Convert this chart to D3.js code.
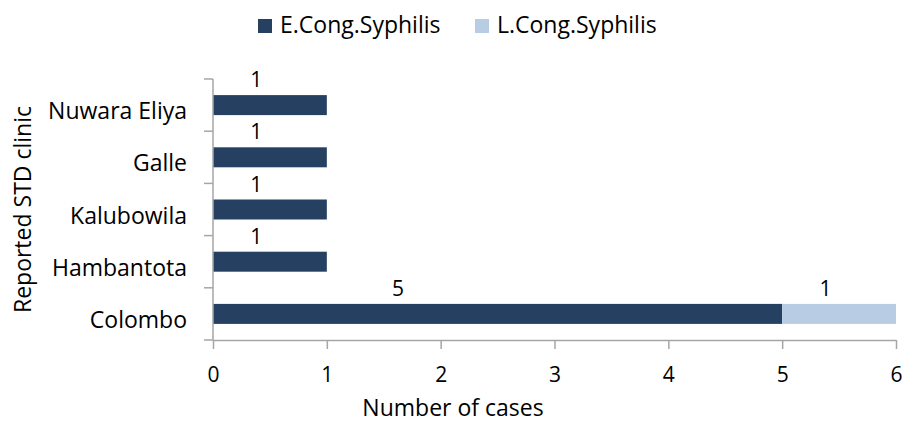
<!DOCTYPE html>
<html>
<head>
<meta charset="utf-8">
<script src="https://cdn.jsdelivr.net/npm/d3@7"></script>
<style>
  body { margin: 0; background: #fff; }
  svg text { font-family: "Open Sans", sans-serif; fill: #000; }
</style>
</head>
<body>
<svg class="svg_chart" width="902" height="424"></svg>
<script>
// clinics from top to bottom
var clinics = ["Nuwara Eliya", "Galle", "Kalubowila", "Hambantota", "Colombo"];
var earlyCases = [1, 1, 1, 1, 5];
var lateCases = [0, 0, 0, 0, 1];
var seriesNames = ["E.Cong.Syphilis", "L.Cong.Syphilis"];
var xTicks = [0, 1, 2, 3, 4, 5, 6];

var colors = ["#264061", "#b8cce4"];
var axisColor = "#a6a6a6";

var svg = d3.select(".svg_chart"),
    margin = {top: 79, right: 6, bottom: 84, left: 213},
    width = +svg.attr("width") - margin.left - margin.right,
    height = +svg.attr("height") - margin.top - margin.bottom,
    g = svg.append("g").attr("transform", "translate(" + margin.left + "," + margin.top + ")");

var x = d3.scaleLinear().domain([0, 6]).range([0, width]);
var y = d3.scaleBand().domain(clinics).range([0, height]).paddingInner(0).paddingOuter(0);
var barH = 20;

var rows = clinics.map(function(c, i) {
    return {clinic: c, e: earlyCases[i], l: lateCases[i]};
});

// stacked segments
var segs = [];
rows.forEach(function(d) {
    segs.push({clinic: d.clinic, x0: 0, x1: d.e, v: d.e, s: 0});
    if (d.l > 0) segs.push({clinic: d.clinic, x0: d.e, x1: d.e + d.l, v: d.l, s: 1});
});

g.selectAll(".bar")
    .data(segs)
  .enter().append("rect")
    .attr("class", "bar")
    .attr("x", function(d) { return x(d.x0); })
    .attr("y", function(d) { return y(d.clinic) + (y.bandwidth() - barH) / 2; })
    .attr("width", function(d) { return x(d.x1) - x(d.x0); })
    .attr("height", barH)
    .style("fill", function(d) { return colors[d.s]; });

// value labels (a bit left of segment centre, like the original)
g.selectAll(".lbl")
    .data(segs)
  .enter().append("text")
    .attr("class", "lbl")
    .attr("x", function(d) {
        var frac = d.v > 1 ? 0.325 : 0.38;
        return x(d.x0) + (x(d.x1) - x(d.x0)) * frac;
    })
    .attr("y", function(d) { return y(d.clinic) + (y.bandwidth() - barH) / 2 - 8; })
    .attr("text-anchor", "middle")
    .style("font-size", "21px")
    .text(function(d) { return d.v; });

// x axis
var xAxis = g.append("g")
    .attr("transform", "translate(0," + height + ")")
    .call(d3.axisBottom(x).tickValues(xTicks).tickFormat(d3.format("d"))
        .tickSize(9).tickSizeOuter(0).tickPadding(0));
xAxis.select(".domain").attr("stroke", axisColor).attr("stroke-width", 1.5);
xAxis.selectAll(".tick line").attr("stroke", axisColor).attr("stroke-width", 1.5);
xAxis.selectAll(".tick text")
    .attr("y", 42).attr("dy", null)
    .attr("fill", "#000")
    .style("font-size", "21px")
    .style("font-family", "'Open Sans', sans-serif");

// y axis: line with ticks at band edges
g.append("line")
    .attr("x1", 0).attr("x2", 0)
    .attr("y1", 0).attr("y2", height)
    .attr("stroke", axisColor).attr("stroke-width", 1.5);

var edges = clinics.map(function(c) { return y(c); }).concat([height]);
g.selectAll(".ytick")
    .data(edges)
  .enter().append("line")
    .attr("x1", -9).attr("x2", 0)
    .attr("y1", function(d) { return d; })
    .attr("y2", function(d) { return d; })
    .attr("stroke", axisColor).attr("stroke-width", 1.5);

g.selectAll(".ylbl")
    .data(clinics)
  .enter().append("text")
    .attr("x", -26)
    .attr("y", function(d) { return y(d) + y.bandwidth() / 2 + barH / 2 + 4; })
    .attr("text-anchor", "end")
    .style("font-size", "23px")
    .text(function(d) { return d; });

// axis titles
svg.append("text")
    .attr("transform", "translate(31," + (margin.top + height / 2) + ") rotate(-90)")
    .attr("text-anchor", "middle")
    .style("font-size", "23px")
    .text("Reported STD clinic");

svg.append("text")
    .attr("x", 453)
    .attr("y", 416)
    .attr("text-anchor", "middle")
    .style("font-size", "23px")
    .text("Number of cases");

// legend
var legend = svg.append("g").attr("transform", "translate(258,19)");
var legX = [0, 217];
seriesNames.forEach(function(name, i) {
    var lg = legend.append("g").attr("transform", "translate(" + legX[i] + ",0)");
    lg.append("rect").attr("width", 14).attr("height", 14).style("fill", colors[i]);
    lg.append("text").attr("x", 22).attr("y", 14).style("font-size", "23px").text(name);
});
</script>
</body>
</html>
